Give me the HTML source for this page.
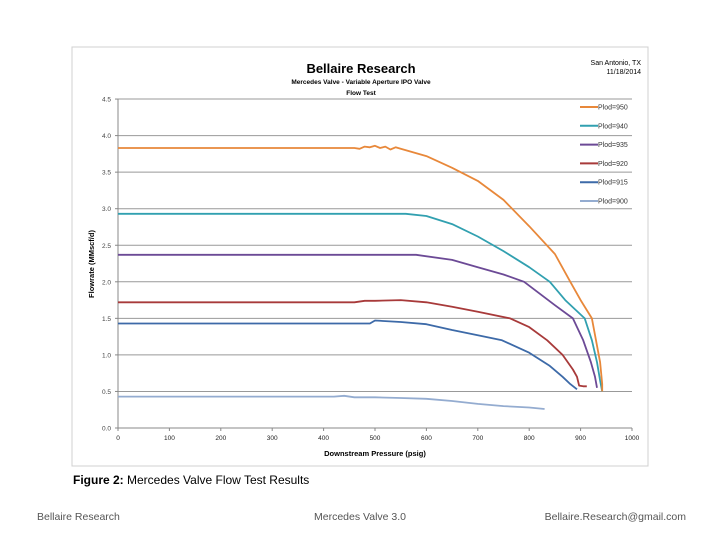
<!DOCTYPE html>
<html><head><meta charset="utf-8"><style>
body{margin:0;background:#fff;width:720px;height:540px;overflow:hidden;font-family:"Liberation Sans",sans-serif}
</style></head><body>
<svg width="720" height="540" font-family="Liberation Sans, sans-serif">
<rect x="72" y="47" width="576" height="419" fill="#fff" stroke="#d0d0d0"/>
<text x="361" y="73" text-anchor="middle" font-size="13" font-weight="bold">Bellaire Research</text>
<text x="361" y="84" text-anchor="middle" font-size="6.5" font-weight="bold">Mercedes Valve - Variable  Aperture IPO Valve</text>
<text x="361" y="95" text-anchor="middle" font-size="6.5" font-weight="bold">Flow Test</text>
<text x="641" y="65" text-anchor="end" font-size="7">San Antonio, TX</text>
<text x="641" y="74" text-anchor="end" font-size="7">11/18/2014</text>
<g id="grid"></g><g id="axes"></g><g id="series"></g><g id="legend"></g>
<text transform="translate(94,264) rotate(-90)" text-anchor="middle" font-size="7.5" font-weight="bold">Flowrate (MMscf/d)</text>
<text x="375" y="456" text-anchor="middle" font-size="7.5" font-weight="bold">Downstream Pressure (psig)</text>
<text x="73" y="484" font-size="12"><tspan font-weight="bold">Figure 2:</tspan> Mercedes Valve Flow Test Results</text>
<text x="37" y="520" font-size="10.5" fill="#555">Bellaire Research</text>
<text x="360" y="520" text-anchor="middle" font-size="10.5" fill="#555">Mercedes Valve 3.0</text>
<text x="686" y="520" text-anchor="end" font-size="10.5" fill="#555">Bellaire.Research@gmail.com</text>
</svg>
<script>
const yTicks=[0,0.5,1,1.5,2,2.5,3,3.5,4,4.5];
const yTickLabels=["0.0","0.5","1.0","1.5","2.0","2.5","3.0","3.5","4.0","4.5"];
const xTicks=[0,100,200,300,400,500,600,700,800,900,1000];
const seriesNames=["Plod=950","Plod=940","Plod=935","Plod=920","Plod=915","Plod=900"];
const seriesColors=["#e8883a","#31a0b0","#6c4a96","#a83a3a","#3d6aa8","#94acd0"];
const p950=[[0,3.83],[460,3.83],[470,3.82],[480,3.85],[490,3.84],[500,3.86],[510,3.83],[520,3.85],[530,3.81],[540,3.84],[550,3.82],[600,3.72],[650,3.56],[700,3.38],[750,3.12],[800,2.76],[850,2.38],[880,2.0],[900,1.75],[922,1.5],[930,1.2],[938,0.9],[942,0.6],[942,0.5]];
const p940=[[0,2.93],[560,2.93],[600,2.9],[650,2.79],[700,2.62],[750,2.42],[800,2.2],[840,2.0],[870,1.75],[908,1.5],[922,1.2],[932,0.9],[938,0.65],[942,0.5]];
const p935=[[0,2.37],[580,2.37],[650,2.3],[700,2.2],[750,2.1],[790,2.0],[850,1.68],[885,1.5],[905,1.2],[920,0.9],[928,0.7],[932,0.55]];
const p920=[[0,1.72],[460,1.72],[480,1.74],[500,1.74],[550,1.75],[600,1.72],[650,1.66],[700,1.59],[763,1.5],[800,1.38],[835,1.2],[865,1.0],[885,0.8],[893,0.7],[897,0.58],[905,0.57],[912,0.57]];
const p915=[[0,1.43],[490,1.43],[500,1.47],[550,1.45],[600,1.42],[650,1.34],[700,1.27],[747,1.2],[800,1.03],[840,0.85],[865,0.7],[880,0.6],[893,0.53]];
const p900=[[0,0.43],[420,0.43],[440,0.44],[460,0.42],[500,0.42],[550,0.41],[600,0.4],[650,0.37],[700,0.33],[750,0.3],[800,0.28],[830,0.26]];
const allSeries=[p950,p940,p935,p920,p915,p900];
const NS="http://www.w3.org/2000/svg";
const X=v=>118+v*0.514, Y=v=>428-v*73.1;
function mk(t,a,p){const e=document.createElementNS(NS,t);for(const k in a)e.setAttribute(k,a[k]);p.appendChild(e);return e;}
const grid=document.getElementById('grid'),axes=document.getElementById('axes'),ser=document.getElementById('series'),leg=document.getElementById('legend');
yTicks.forEach((v,i)=>{
 if(v>0){const g=mk('line',{x1:X(0),x2:X(1000),y1:Y(v),y2:Y(v),stroke:'#999','stroke-width':1},grid);
 
 }
 const t=mk('text',{x:X(0)-7,y:Y(v)+2.5,'text-anchor':'end','font-size':6.5,fill:'#444'},axes);t.textContent=yTickLabels[i];
 
 
 mk('line',{x1:X(0)-3,x2:X(0),y1:Y(v),y2:Y(v),stroke:'#888'},axes);
});
xTicks.forEach(v=>{
 const t=mk('text',{x:X(v),y:Y(0)+12,'text-anchor':'middle','font-size':6.5,fill:'#222'},axes);t.textContent=v;
 
 
 mk('line',{x1:X(v),x2:X(v),y1:Y(0),y2:Y(0)+3,stroke:'#888'},axes);
});
const ya=mk('line',{x1:X(0),x2:X(0),y1:Y(0),y2:Y(4.5),stroke:'#888'},axes);


const xa=mk('line',{x1:X(0),x2:X(1000),y1:Y(0),y2:Y(0),stroke:'#888'},axes);


for(let i=allSeries.length-1;i>=0;i--){
 const pts=allSeries[i].map(p=>X(p[0]).toFixed(1)+','+Y(p[1]).toFixed(1)).join(' ');
 const l=mk('polyline',{points:pts,fill:'none',stroke:seriesColors[i],'stroke-width':1.8,'stroke-linejoin':'round'},ser);
 
 
}
seriesNames.forEach((n,i)=>{
 const y=107+i*18.8;
 const g=mk('g',{},leg);
 
 
 mk('line',{x1:580,x2:598,y1:y,y2:y,stroke:seriesColors[i],'stroke-width':2},g);
 const t=mk('text',{x:598,y:y+2.5,'font-size':7,fill:'#333'},g);t.textContent=n;
});
</script>
</body></html>
